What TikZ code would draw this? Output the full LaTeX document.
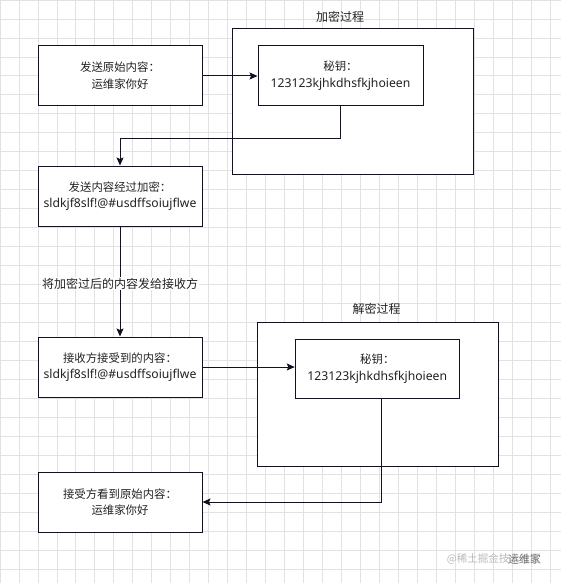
\documentclass[tikz,border=0pt]{standalone}
\usepackage{fontspec}
\setmainfont{Noto Sans CJK SC}
\newfontfamily\latf{Noto Sans}
\newcommand{\lat}{\latf\fontsize{12.2}{16.7}\selectfont}
\usetikzlibrary{arrows.meta,positioning}
\definecolor{gridc}{HTML}{E2E2E2}
\definecolor{txt}{HTML}{222222}
\definecolor{edge}{HTML}{111122}
\tikzset{
  gridline/.style={draw=gridc,line width=0.8pt},
  box/.style={draw=edge,line width=1pt,fill=white,minimum width=164pt,minimum height=60pt,inner sep=0pt,align=center,text=txt,font=\fontsize{11.4}{16.7}\selectfont},
  frame/.style={draw=edge,line width=1pt,fill=white,inner sep=0pt},
  title/.style={text=txt,font=\fontsize{12}{14}\selectfont,inner sep=0pt},
  arr/.style={draw=edge,line width=1pt,-{Stealth[length=8pt,width=7pt,inset=1.5pt]}},
  elabel/.style={fill=white,text=txt,font=\fontsize{12}{14}\selectfont,inner sep=1pt}
}
\begin{document}
\begin{tikzpicture}[x=1pt,y=-1pt]
\useasboundingbox (0,0) rectangle (561,583);
\fill[white] (0,0) rectangle (561,583);
\foreach \i in {0,...,29} {
  \draw[gridline] (\i*18.97,0) -- (\i*18.97,583);
}
\foreach \j in {0,...,30} {
  \draw[gridline] (0,\j*18.97) -- (561,\j*18.97);
}
% containers
\node[frame,minimum width=241pt,minimum height=145pt] (enc) at (352.5,101.5) {};
\node[title] (enctitle) at (340,16.7) {加密过程};
\node[frame,minimum width=241pt,minimum height=144pt] (dec) at (377.5,394) {};
\node[title] (dectitle) at (376.7,309) {解密过程};
% boxes
\node[box] (b1) at (120,76) {发送原始内容：\\运维家你好};
\node[box] (b2) at (120,196) {发送内容经过加密：\\{\lat sldkjf8slf!@\#usdffsoiujflwe}};
\node[box] (b3) at (120,367) {接收方接受到的内容：\\{\lat sldkjf8slf!@\#usdffsoiujflwe}};
\node[box] (b4) at (120,502) {接受方看到原始内容：\\运维家你好};
\node[box,minimum width=165pt] (k1) at (340.5,76) {秘钥：\\{\lat 123123kjhkdhsfkjhoieen}};
\node[box,minimum height=59pt] (k2) at (377.3,368.5) {秘钥：\\{\lat 123123kjhkdhsfkjhoieen}};
% connectors
\draw[arr] (b1.east) -- (k1.west);
\draw[arr] (k1.south) -- ++(0,31.7) -| (b2.north);
\draw[arr] (b2.south) -- node[elabel,pos=0.518] (lab) {将加密过后的内容发给接收方} (b3.north);
\draw[arr] (b3.east) -- (k2.west |- b3.east);
\draw[arr] ([xshift=4.4pt]k2.south) |- (b4.east);
% watermark
\node[anchor=east,inner sep=0pt,text=gray!55,font=\fontsize{10.5}{12}\selectfont] (wm1) at (541,559) {@稀土掘金技术社区};
\node[anchor=east,inner sep=0pt,text=gray!90!black,font=\fontsize{11}{12}\selectfont] (wm2) at (541,559) {运维家};
\end{tikzpicture}
\end{document}
